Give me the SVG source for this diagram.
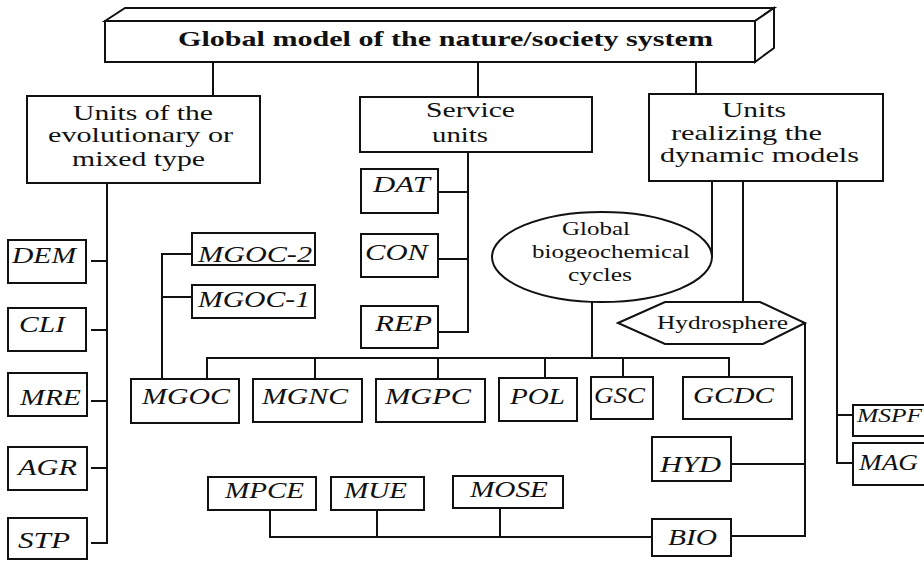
<svg xmlns="http://www.w3.org/2000/svg" width="924" height="561" viewBox="0 0 924 561">
<style>
.b{fill:#fff;stroke:#111;stroke-width:2}
.c{fill:none;stroke:#111;stroke-width:2}
text{font-family:"Liberation Serif","Times New Roman",serif;fill:#111}
.r{font-size:21px}
.s{font-size:19px}
.i{font-size:23px;font-style:italic}
.t{font-size:21px;font-weight:bold}
</style>
<rect width="924" height="561" fill="#fff"/>
<g id="connectors" class="c">
<path d="M213,62V96M478,62V97M696,62V94"/>
<path d="M91,543H107V183M91,261H107M91,330H107M91,401H107M91,468H107"/>
<path d="M438,332H468V152M438,192H468M438,259H468"/>
<path d="M192,254H162V379M162,297H192"/>
<path d="M207,379V358H729V377M315,358V379M438,358V379M545,358V379M623,358V377M592,302V358"/>
<path d="M712,181V257M743,181V302M837,181V463H853M837,415H853"/>
<path d="M805,323V537M731,464H805M731,536H805"/>
<path d="M270,510V537H653M377,510V537M500,508V537"/>
</g>
<g id="top">
<polygon class="b" points="105,21 125,8 774,8 755,21"/>
<polygon class="b" points="755,21 774,8 774,48 755,62"/>
<rect class="b" x="105" y="21" width="650" height="41"/>
<text class="t" x="178" y="46" textLength="535" lengthAdjust="spacingAndGlyphs">Global model of the nature/society system</text>
</g>
<g id="evol">
<rect class="b" x="27" y="96" width="233" height="87"/>
<text class="r" x="73" y="120" textLength="140" lengthAdjust="spacingAndGlyphs">Units of the</text>
<text class="r" x="48" y="142" textLength="185" lengthAdjust="spacingAndGlyphs">evolutionary or</text>
<text class="r" x="72" y="166" textLength="133" lengthAdjust="spacingAndGlyphs">mixed type</text>
</g>
<g id="service">
<rect class="b" x="360" y="97" width="232" height="55"/>
<text class="r" x="426" y="117" textLength="89" lengthAdjust="spacingAndGlyphs">Service</text>
<text class="r" x="432" y="142" textLength="56" lengthAdjust="spacingAndGlyphs">units</text>
</g>
<g id="dynamic">
<rect class="b" x="649" y="94" width="234" height="87"/>
<text class="r" x="722" y="117" textLength="64" lengthAdjust="spacingAndGlyphs">Units</text>
<text class="r" x="671" y="140" textLength="151" lengthAdjust="spacingAndGlyphs">realizing the</text>
<text class="r" x="660" y="162" textLength="199" lengthAdjust="spacingAndGlyphs">dynamic models</text>
</g>
<g id="DEM"><rect class="b" x="8" y="240" width="78" height="43"/><text class="i" x="12" y="263" textLength="64" lengthAdjust="spacingAndGlyphs">DEM</text></g>
<g id="CLI"><rect class="b" x="8" y="308" width="78" height="43"/><text class="i" x="19" y="332" textLength="46" lengthAdjust="spacingAndGlyphs">CLI</text></g>
<g id="MRE"><rect class="b" x="8" y="373" width="79" height="43"/><text class="i" x="20" y="405" textLength="61" lengthAdjust="spacingAndGlyphs">MRE</text></g>
<g id="AGR"><rect class="b" x="8" y="447" width="79" height="43"/><text class="i" x="18" y="475" textLength="59" lengthAdjust="spacingAndGlyphs">AGR</text></g>
<g id="STP"><rect class="b" x="8" y="518" width="79" height="41"/><text class="i" x="18" y="548" textLength="52" lengthAdjust="spacingAndGlyphs">STP</text></g>
<g id="DAT"><rect class="b" x="361" y="169" width="77" height="44"/><text class="i" x="373" y="192" textLength="57" lengthAdjust="spacingAndGlyphs">DAT</text></g>
<g id="CON"><rect class="b" x="361" y="234" width="77" height="43"/><text class="i" x="365" y="260" textLength="63" lengthAdjust="spacingAndGlyphs">CON</text></g>
<g id="REP"><rect class="b" x="361" y="306" width="77" height="42"/><text class="i" x="375" y="331" textLength="57" lengthAdjust="spacingAndGlyphs">REP</text></g>
<g id="MGOC-2"><rect class="b" x="192" y="233" width="123" height="32"/><text class="i" x="198" y="262" textLength="114" lengthAdjust="spacingAndGlyphs">MGOC-2</text></g>
<g id="MGOC-1"><rect class="b" x="192" y="285" width="123" height="33"/><text class="i" x="198" y="307" textLength="112" lengthAdjust="spacingAndGlyphs">MGOC-1</text></g>
<g id="cycles">
<ellipse class="b" cx="602" cy="257" rx="110" ry="45"/>
<text class="s" x="562" y="235" textLength="68" lengthAdjust="spacingAndGlyphs">Global</text>
<text class="s" x="532" y="258" textLength="158" lengthAdjust="spacingAndGlyphs">biogeochemical</text>
<text class="s" x="568" y="281" textLength="64" lengthAdjust="spacingAndGlyphs">cycles</text>
</g>
<g id="hydrosphere">
<polygon class="b" points="618,323 665,302 760,302 805,323 763,344 665,344"/>
<text class="s" x="657" y="329" textLength="131" lengthAdjust="spacingAndGlyphs">Hydrosphere</text>
</g>
<g id="MGOC"><rect class="b" x="131" y="379" width="108" height="44"/><text class="i" x="142" y="404" textLength="88" lengthAdjust="spacingAndGlyphs">MGOC</text></g>
<g id="MGNC"><rect class="b" x="253" y="379" width="109" height="43"/><text class="i" x="262" y="404" textLength="86" lengthAdjust="spacingAndGlyphs">MGNC</text></g>
<g id="MGPC"><rect class="b" x="376" y="379" width="109" height="43"/><text class="i" x="385" y="404" textLength="86" lengthAdjust="spacingAndGlyphs">MGPC</text></g>
<g id="POL"><rect class="b" x="499" y="378" width="78" height="43"/><text class="i" x="510" y="404" textLength="55" lengthAdjust="spacingAndGlyphs">POL</text></g>
<g id="GSC"><rect class="b" x="591" y="377" width="62" height="42"/><text class="i" x="594" y="403" textLength="51" lengthAdjust="spacingAndGlyphs">GSC</text></g>
<g id="GCDC"><rect class="b" x="683" y="377" width="109" height="42"/><text class="i" x="693" y="403" textLength="81" lengthAdjust="spacingAndGlyphs">GCDC</text></g>
<g id="MSPF"><rect class="b" x="853" y="405" width="75" height="31"/><text class="s" font-style="italic" x="857" y="422" textLength="65" lengthAdjust="spacingAndGlyphs">MSPF</text></g>
<g id="MAG"><rect class="b" x="853" y="443" width="75" height="42"/><text class="i" x="859" y="470" textLength="59" lengthAdjust="spacingAndGlyphs">MAG</text></g>
<g id="HYD"><rect class="b" x="652" y="437" width="79" height="44"/><text class="i" x="660" y="472" textLength="61" lengthAdjust="spacingAndGlyphs">HYD</text></g>
<g id="BIO"><rect class="b" x="652" y="519" width="79" height="37"/><text class="i" x="668" y="545" textLength="49" lengthAdjust="spacingAndGlyphs">BIO</text></g>
<g id="MPCE"><rect class="b" x="208" y="477" width="108" height="33"/><text class="i" x="225" y="498" textLength="79" lengthAdjust="spacingAndGlyphs">MPCE</text></g>
<g id="MUE"><rect class="b" x="331" y="477" width="93" height="33"/><text class="i" x="344" y="498" textLength="63" lengthAdjust="spacingAndGlyphs">MUE</text></g>
<g id="MOSE"><rect class="b" x="453" y="476" width="110" height="32"/><text class="i" x="470" y="497" textLength="78" lengthAdjust="spacingAndGlyphs">MOSE</text></g>
</svg>
